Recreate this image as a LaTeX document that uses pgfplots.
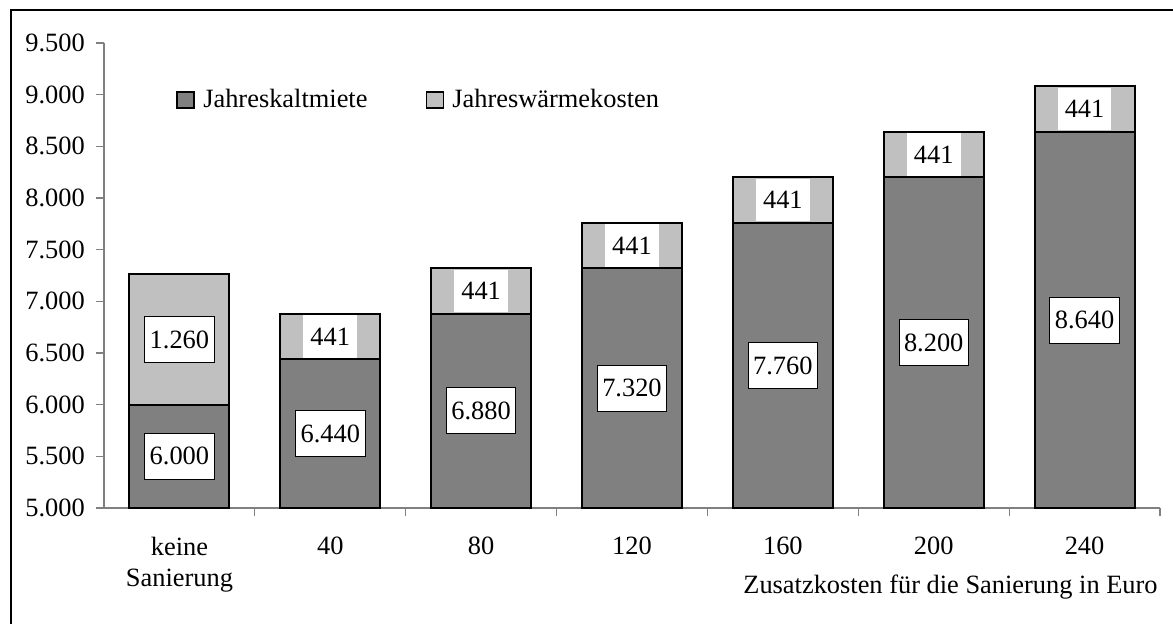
\documentclass[border=0pt]{standalone}
\usepackage{pgfplots}
\pgfplotsset{compat=1.18}
\usepackage{fontspec}
\setmainfont{Liberation Serif}
\definecolor{dark}{RGB}{128,128,128}
\definecolor{light}{RGB}{192,192,192}
\begin{document}
\fontsize{13.2}{15.5}\selectfont
\begin{tikzpicture}
\path[use as bounding box] (0,0) rectangle (586.5pt,-311.5pt);
\begin{axis}[
  at={(52pt,-254pt)}, anchor=south west,
  scale only axis, width=528pt, height=232.5pt,
  ybar stacked, bar width=50pt,
  xmin=-0.5, xmax=6.5, ymin=5000, ymax=9500,
  axis lines*=left,
  axis line style={draw=dark, line width=0.6pt},
  tick align=outside,
  ytick={5000,5500,...,9500},
  major tick length=4pt,
  tick style={draw=dark, line width=0.6pt},
  xtick={0.5,1.5,...,6.5},
  xticklabels={},
  extra x ticks={0,1,2,3,4,5,6},
  extra x tick labels={keine\\Sanierung,40,80,120,160,200,240},
  extra x tick style={major tick length=0pt},
  xticklabel style={align=center, yshift=-10pt},
  yticklabel style={xshift=-1pt},
  /pgf/number format/.cd, fixed, precision=0, 1000 sep={.}, assume math mode=true,
  /pgfplots/.cd,
  legend style={at={(0.0625,0.877)}, anchor=west, draw=none, fill=none,
    legend columns=2, /tikz/every even column/.append style={column sep=27pt},
    nodes={inner sep=2pt}},
  legend image code/.code={\draw[#1, line width=0.9pt] (0pt,-4pt) rectangle (8.5pt,4pt); \path[draw=none, fill=none] (0pt,0pt) -- (11pt,0pt);},
]
\addplot[fill=dark, draw=black, line width=1pt] coordinates {(0,6000)(1,6440)(2,6880)(3,7320)(4,7760)(5,8200)(6,8640)};
\addlegendentry{Jahreskaltmiete}
\addplot[fill=light, draw=black, line width=1pt] coordinates {(0,1260)(1,441)(2,441)(3,441)(4,441)(5,441)(6,441)};
\addlegendentry{Jahreswärmekosten}
\end{axis}
\begin{axis}[
  at={(52pt,-254pt)}, anchor=south west,
  scale only axis, width=528pt, height=232.5pt,
  xmin=-0.5, xmax=6.5, ymin=5000, ymax=9500,
  hide axis, clip=false,
]
\addplot[draw=none, mark=none, nodes near coords, point meta=explicit symbolic,
  every node near coord/.style={anchor=center, fill=white, draw=black, line width=0.4pt, minimum height=23pt, inner xsep=2.5pt}]
  coordinates {(0,5500)[6.000] (1,5720)[6.440] (2,5940)[6.880] (3,6160)[7.320] (4,6380)[7.760] (5,6600)[8.200] (6,6820)[8.640] (0,6630)[1.260]};
\addplot[draw=none, mark=none, nodes near coords, point meta=explicit symbolic,
  every node near coord/.style={anchor=center, fill=white, draw=none, minimum height=21.2pt, inner xsep=3.5pt}]
  coordinates {(1,6660.5)[441] (2,7100.5)[441] (3,7540.5)[441] (4,7980.5)[441] (5,8420.5)[441] (6,8860.5)[441]};
\end{axis}
\draw[line width=1.3pt] (5.5pt,-320pt) -- (5.5pt,-5pt) -- (600pt,-5pt);
\node[anchor=base east, inner sep=0pt] at (579pt,-296.5pt) {Zusatzkosten für die Sanierung in Euro};
\end{tikzpicture}
\end{document}
